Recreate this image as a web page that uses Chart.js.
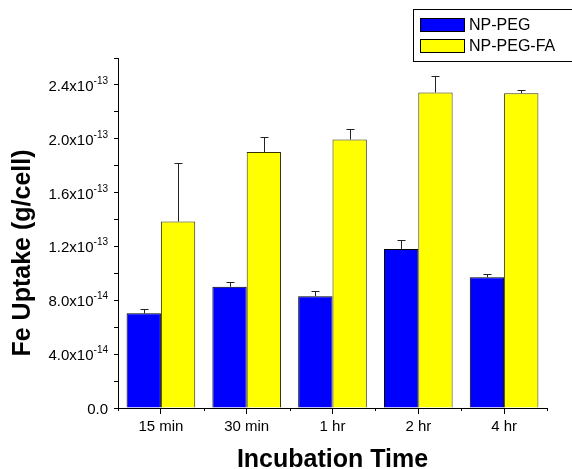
<!DOCTYPE html>
<html>
<head>
<meta charset="utf-8">
<script src="https://cdn.jsdelivr.net/npm/chart.js@4.4.1/dist/chart.umd.min.js"></script>
<style>
  html, body { margin: 0; padding: 0; background: #fff; }
  #wrap { width: 572px; height: 469px; }
</style>
</head>
<body>
<div id="wrap"><canvas id="grafico" width="572" height="469"></canvas></div>
<script>
// dados
const categorias = ['15 min', '30 min', '1 hr', '2 hr', '4 hr'];
const pegValores = [7.03e-14, 9.01e-14, 8.30e-14, 1.182e-13, 9.71e-14];
const pegErros = [0.30e-14, 0.38e-14, 0.39e-14, 0.69e-14, 0.23e-14];
const faValores = [1.385e-13, 1.902e-13, 1.994e-13, 2.344e-13, 2.339e-13];
const faErros = [4.35e-14, 1.14e-14, 0.82e-14, 1.25e-14, 0.22e-14];

// rótulos do eixo Y (mantissa + expoente)
const yTickValores = [0, 4e-14, 8e-14, 1.2e-13, 1.6e-13, 2.0e-13, 2.4e-13];
const yTickMantissas = ['0.0', '4.0x10', '8.0x10', '1.2x10', '1.6x10', '2.0x10', '2.4x10'];
const yTickExpoentes = ['', '-14', '-14', '-13', '-13', '-13', '-13'];

const FONTE = 'Arial, "Liberation Sans", sans-serif';

// barras de erro (só para cima)
const errorBars = {
    id: 'errorBars',
    afterDatasetsDraw(chart) {
        const ctx = chart.ctx;
        const y = chart.scales.y;
        ctx.save();
        ctx.strokeStyle = '#222';
        ctx.lineWidth = 1;
        chart.data.datasets.forEach((ds, i) => {
            const meta = chart.getDatasetMeta(i);
            meta.data.forEach((bar, j) => {
                const topo = y.getPixelForValue(ds.data[j] + ds.erros[j]);
                const x = Math.round(bar.x) + 0.5;
                ctx.beginPath();
                ctx.moveTo(x, bar.y);
                ctx.lineTo(x, Math.round(topo) + 0.5);
                ctx.moveTo(x - 4, Math.round(topo) + 0.5);
                ctx.lineTo(x + 4, Math.round(topo) + 0.5);
                ctx.stroke();
            });
        });
        ctx.restore();
    }
};

// rótulos do Y com sobrescrito, títulos, ticks entre categorias e legenda
const extras = {
    id: 'extras',
    afterDraw(chart) {
        const ctx = chart.ctx;
        const y = chart.scales.y;
        const x = chart.scales.x;
        const area = chart.chartArea;
        ctx.save();
        ctx.fillStyle = '#000';

        // rótulos do eixo Y
        const direita = area.left - 10;
        yTickValores.forEach((v, i) => {
            const py = y.getPixelForValue(v);
            ctx.font = '10px ' + FONTE;
            const wSup = ctx.measureText(yTickExpoentes[i]).width;
            ctx.textAlign = 'left';
            ctx.textBaseline = 'alphabetic';
            if (yTickExpoentes[i]) ctx.fillText(yTickExpoentes[i], direita - wSup, py - 1);
            ctx.font = '15px ' + FONTE;
            ctx.textAlign = 'right';
            ctx.fillText(yTickMantissas[i], direita - wSup, py + 6);
        });

        // ticks nas divisões das categorias
        ctx.strokeStyle = '#000';
        ctx.lineWidth = 1;
        const passo = x.width / categorias.length;
        for (let i = 0; i <= categorias.length; i++) {
            const px = Math.round(x.left + i * passo) + 0.5;
            ctx.beginPath();
            ctx.moveTo(px, area.bottom);
            ctx.lineTo(px, area.bottom + 3);
            ctx.stroke();
        }

        // títulos dos eixos
        ctx.font = 'bold 25px ' + FONTE;
        ctx.textAlign = 'center';
        ctx.textBaseline = 'alphabetic';
        ctx.fillText('Incubation Time', (area.left + area.right) / 2, 467);
        ctx.save();
        ctx.translate(30, 253);
        ctx.rotate(-Math.PI / 2);
        ctx.fillText('Fe Uptake (g/cell)', 0, 0);
        ctx.restore();

        // legenda
        ctx.strokeStyle = '#000';
        ctx.strokeRect(413.5, 9.5, 170, 52);
        ctx.font = '16px ' + FONTE;
        ctx.textAlign = 'left';
        ctx.textBaseline = 'middle';
        chart.data.datasets.forEach((ds, i) => {
            const ty = 18.5 + i * 21;
            ctx.fillStyle = ds.backgroundColor;
            ctx.fillRect(420.5, ty, 44, 13);
            ctx.strokeStyle = '#000';
            ctx.strokeRect(420.5, ty, 44, 13);
            ctx.fillStyle = '#000';
            ctx.fillText(ds.label, 469, ty + 7);
        });
        ctx.restore();
    }
};

const ctx = document.getElementById('grafico').getContext('2d');
const grafico = new Chart(ctx, {
    type: 'bar',
    data: {
        labels: categorias,
        datasets: [{
            label: 'NP-PEG',
            data: pegValores,
            erros: pegErros,
            backgroundColor: '#0000ff',
            borderColor: '#000',
            borderWidth: 1
        }, {
            label: 'NP-PEG-FA',
            data: faValores,
            erros: faErros,
            backgroundColor: '#ffff00',
            borderColor: '#333300',
            borderWidth: 1
        }]
    },
    options: {
        responsive: false,
        animation: false,
        layout: { padding: { top: 58, right: 25, left: 0, bottom: 0 } },
        datasets: { bar: { categoryPercentage: 0.8, barPercentage: 1.0 } },
        plugins: {
            legend: { display: false },
            tooltip: { enabled: false }
        },
        scales: {
            x: {
                grid: { display: true, drawOnChartArea: false, offset: false, color: '#000', tickLength: 6 },
                border: { color: '#000', width: 1 },
                ticks: { color: '#000', font: { family: FONTE, size: 15 }, padding: 4 },
                afterFit(scale) { scale.height = 61; }
            },
            y: {
                min: 0,
                max: 2.6e-13,
                grid: { display: true, drawOnChartArea: false, color: '#000', tickLength: 4 },
                border: { color: '#000', width: 1 },
                ticks: { display: false, stepSize: 2e-14 },
                afterFit(scale) { scale.width = 118; }
            }
        }
    },
    plugins: [errorBars, extras]
});
</script>
</body>
</html>
